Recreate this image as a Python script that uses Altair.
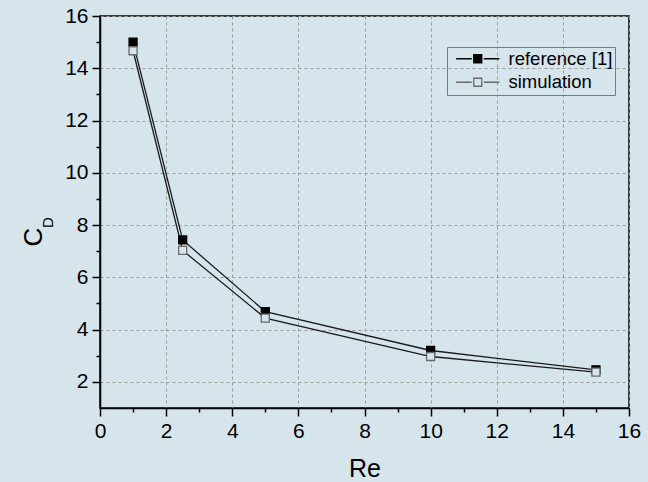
import altair as alt
import pandas as pd

re_values = [1, 2.5, 5, 10, 15]
cd_reference = [15.0, 7.43, 4.69, 3.2, 2.46]
cd_simulation = [14.67, 7.03, 4.44, 2.97, 2.37]
series_names = ["reference [1]", "simulation"]

rows = []
for name, vals in zip(series_names, [cd_reference, cd_simulation]):
    for r, c in zip(re_values, vals):
        rows.append({"Re": r, "CD": c, "series": name})
df = pd.DataFrame(rows)

BG = "#d6e4ec"
FONT = "Liberation Sans"

major_test = "datum.value % 2 === 0"

common = dict(
    labelExpr=f"{major_test} ? datum.label : ''",
    tickSize={"condition": {"test": major_test, "value": 8}, "value": 4},
    gridOpacity={"condition": {"test": major_test, "value": 1}, "value": 0},
    labelOverlap=False, labelFlush=False,
    labelFont=FONT, labelFontSize=21, labelColor="black", labelPadding=4,
    titleFont=FONT, titleFontWeight="normal", titleColor="black",
    grid=True, gridColor="#9a9a9a", gridDash=[3, 3], gridWidth=1,
    domainColor="black", domainWidth=1.5, tickColor="black", tickWidth=1.5,
)

x_axis = alt.Axis(values=list(range(0, 17)), title="Re", titleFontSize=25, titlePadding=15, **common)
y_axis = alt.Axis(
    values=list(range(2, 17)), title="C", titleFontSize=26,
    titleAngle=270, titleAlign="center", titleBaseline="middle",
    titleX=-67, titleY=220.5, **common,
)

x_enc = alt.X("Re:Q", scale=alt.Scale(domain=[0, 16], nice=False), axis=x_axis)
y_enc = alt.Y("CD:Q", scale=alt.Scale(domain=[1, 16], nice=False, zero=False), axis=y_axis)

SYMBOL = "M-3.6,0H-1M-0.667,-0.667H0.667V0.667H-0.667ZM1,0H3.6"

legend = alt.Legend(
    title=None, orient="none", legendX=347, legendY=31,
    symbolType=SYMBOL, symbolSize=144, symbolStrokeWidth=1.3,
    symbolOffset=19, labelOffset=21.5,
    labelFont=FONT, labelFontSize=18.5, labelColor="black",
    strokeColor="#7a7a7a", padding=2.5, rowPadding=4.5,
)

lines = alt.Chart(df).mark_line(color="#1a1a1a", strokeWidth=1.3).encode(
    x=x_enc, y=y_enc, detail="series:N"
)

points = alt.Chart(df).mark_square(size=64, strokeWidth=1.3, opacity=1).encode(
    x=x_enc, y=y_enc,
    fill=alt.Fill("series:N", scale=alt.Scale(domain=series_names, range=["black", BG]), legend=legend),
    stroke=alt.Stroke("series:N", scale=alt.Scale(domain=series_names, range=["black", "#6a6a6a"]), legend=legend),
)

sub = alt.Chart(pd.DataFrame({"t": ["D"]})).mark_text(
    angle=270, fontSize=15, font=FONT, align="center", baseline="middle", color="black"
).encode(text="t:N", x=alt.value(-52.5), y=alt.value(206.5))

chart = alt.layer(lines, points, sub).properties(
    width=529, height=392,
    autosize=alt.AutoSizeParams(type="none"),
    padding={"left": 100, "top": 16, "right": 19, "bottom": 74},
    background=BG,
).configure_view(stroke="black", strokeWidth=1.5)

chart.save("out.html", embed_options={"renderer": "svg", "actions": False})
